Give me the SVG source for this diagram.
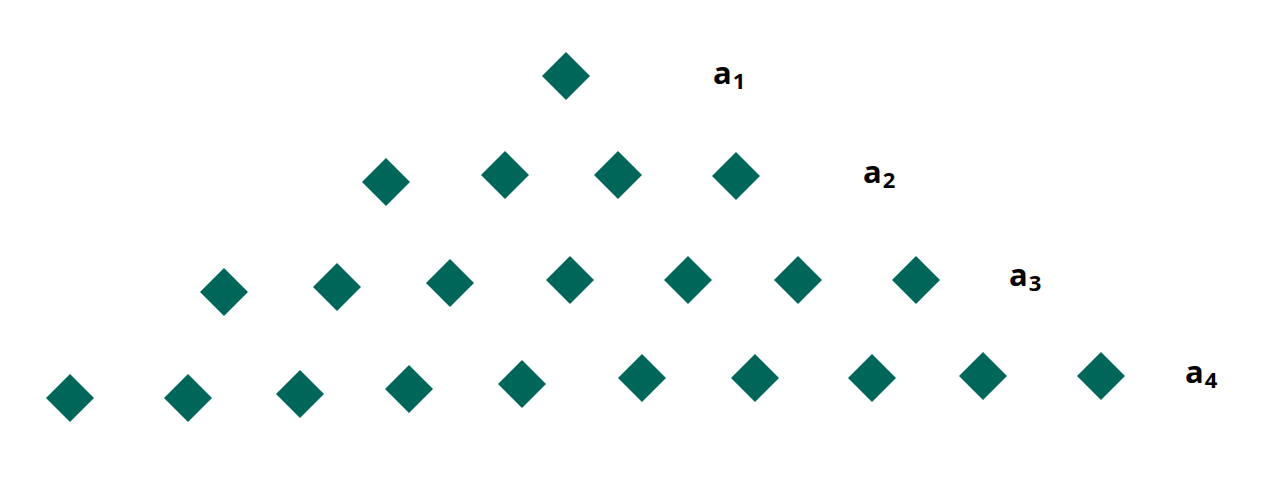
<svg xmlns="http://www.w3.org/2000/svg" width="1262" height="480" viewBox="0 0 1262 480">
<defs>
<style>
.d{fill:#00665A}
.lbl{font-family:"Open Sans","Liberation Sans",sans-serif;font-weight:bold;font-size:31px;fill:#000}
.sub{font-size:22px}
</style>
<polygon id="dm" class="d" points="0,-24 24,0 0,24 -24,0"/>
</defs>
<rect width="1262" height="480" fill="#fff"/>
<g id="row1">
<use href="#dm" x="566" y="76"/>
</g>
<g id="row2">
<use href="#dm" x="386" y="182"/>
<use href="#dm" x="505" y="175"/>
<use href="#dm" x="618" y="175"/>
<use href="#dm" x="736" y="176"/>
</g>
<g id="row3">
<use href="#dm" x="224" y="292"/>
<use href="#dm" x="337" y="287"/>
<use href="#dm" x="450" y="283"/>
<use href="#dm" x="570" y="280"/>
<use href="#dm" x="688" y="280"/>
<use href="#dm" x="798" y="280"/>
<use href="#dm" x="916" y="280"/>
</g>
<g id="row4">
<use href="#dm" x="70" y="398"/>
<use href="#dm" x="188" y="398"/>
<use href="#dm" x="300" y="394"/>
<use href="#dm" x="409" y="389"/>
<use href="#dm" x="522" y="384"/>
<use href="#dm" x="642" y="378"/>
<use href="#dm" x="755" y="378"/>
<use href="#dm" x="872" y="378"/>
<use href="#dm" x="983" y="376"/>
<use href="#dm" x="1101" y="376"/>
</g>
<g id="labels">
<text class="lbl" x="713" y="84">a<tspan class="sub" dx="1" dy="5">1</tspan></text>
<text class="lbl" x="863" y="183">a<tspan class="sub" dx="1" dy="5">2</tspan></text>
<text class="lbl" x="1009" y="286">a<tspan class="sub" dx="1" dy="5">3</tspan></text>
<text class="lbl" x="1185" y="383">a<tspan class="sub" dx="1" dy="5">4</tspan></text>
</g>
</svg>
